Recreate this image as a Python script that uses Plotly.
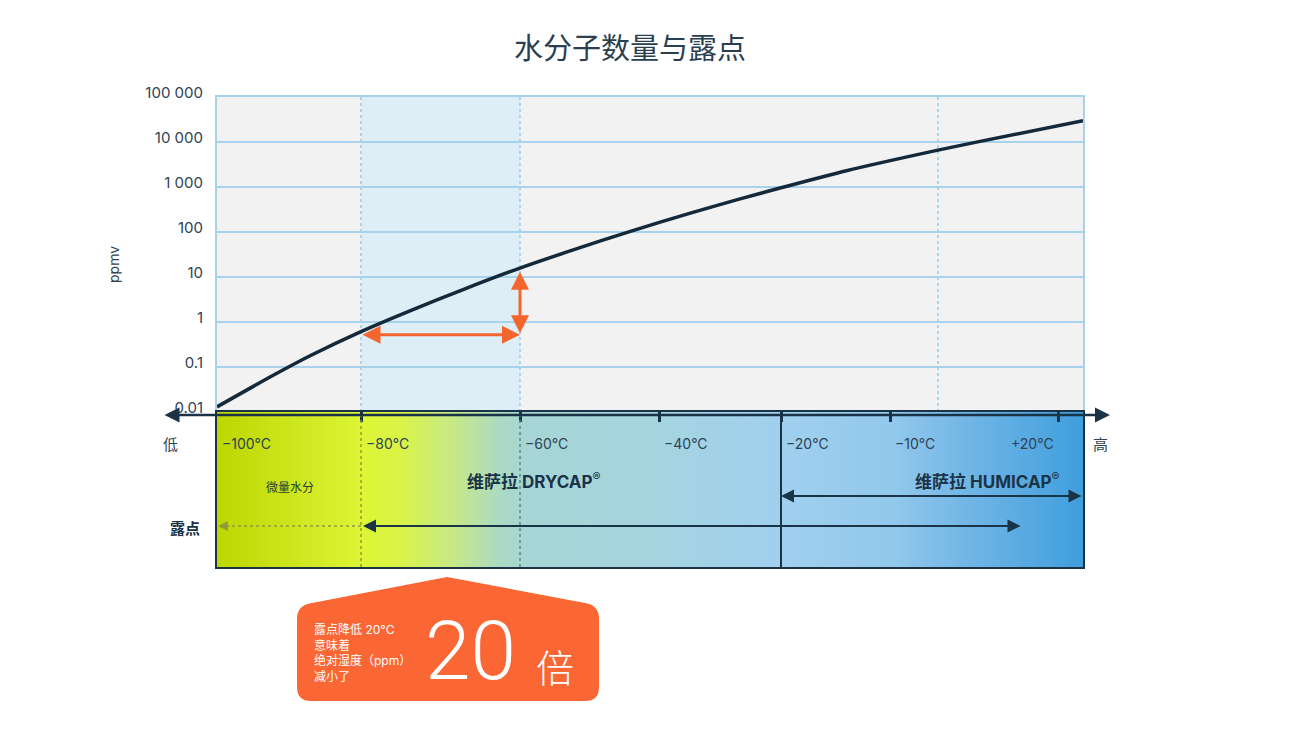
import numpy as np
import plotly.graph_objects as go

# --- data ---
dew_point = [-100, -92, -87, -80, -74, -67, -60, -53, -44, -35, -27, -20, -14, 0, 6, 25]   # °C
ppmv = [0.013, 0.068, 0.18, 0.61, 1.72, 5.4, 15.8, 37, 105, 260, 530, 960, 2300, 6600,
        9700, 29700]

y_ticks = [0.01, 0.1, 1, 10, 100, 1000, 10000, 100000]
y_ticktext = ["0.01", "0.1", "1", "10", "100", "1 000", "10 000", "100 000"]

dp_ticks = [-100, -80, -60, -40, -20, -10, 20]
dp_ticktext = ["\u2212100\u00b0C", "\u221280\u00b0C", "\u221260\u00b0C", "\u221240\u00b0C",
               "\u221220\u00b0C", "\u221210\u00b0C", "+20\u00b0C"]

# 20 °C drop in dew point: -80 -> -60
drop_from, drop_to = -80, -60
drop_level = 0.52      # ppmv of the horizontal arrow
rise_level = 13        # ppmv at the top of the vertical arrow

# the dew point axis is not linear in the original, piecewise scale
SCALE_T = [-100, -80, -60, -40, -20, -10, 0, 20, 25]
SCALE_X = [0, 144, 303, 442, 564, 673, 721, 841, 866]


def to_axis(t):
    return float(np.interp(t, SCALE_T, SCALE_X))


W, H = 1300, 731
OFF = 8   # page margin around the figure


def px(x):
    return (x - OFF) / W


def py(y):
    return 1 - (y - OFF) / H


NAVY = "#1b3346"
TXT = "#2e4354"
GRID = "#a6d2ec"
ORANGE = "#f5662f"
FONT = "Inter, Noto Sans CJK SC"
CJK = "Noto Sans CJK SC"

fig = go.Figure()

# curve
fig.add_trace(go.Scatter(
    x=[to_axis(t) for t in dew_point], y=ppmv, mode="lines",
    line=dict(color="#14293a", width=3.5, shape="spline", smoothing=0.8),
    xaxis="x", yaxis="y", hoverinfo="skip", showlegend=False))

# gradient band (decorative)
grad_pos = [0, 0.08, 0.166, 0.21, 0.27, 0.33, 0.36, 0.5, 0.65, 0.78, 0.88, 1.0]
grad_col = ["#bcd700", "#cbe51c", "#dcf535", "#daf446", "#c8e985", "#aad9c6",
            "#a6d5d5", "#a5d4df", "#a0d0ee", "#92c8ec", "#6cb3e5", "#3f9edc"]
fig.add_trace(go.Heatmap(
    x=[p * SCALE_X[-1] for p in grad_pos], y=[0, 1], z=[grad_pos, grad_pos],
    colorscale=[[p, c] for p, c in zip(grad_pos, grad_col)], zmin=0, zmax=1,
    zsmooth="best", showscale=False, hoverinfo="skip",
    xaxis="x2", yaxis="y2"))

xdom = [px(217), px(1083)]
fig.update_layout(
    width=W, height=H, margin=dict(l=0, r=0, t=0, b=0, autoexpand=False),
    paper_bgcolor="white", plot_bgcolor="#f2f2f2",
    font=dict(family=FONT, color=TXT, size=14),
    showlegend=False,
    xaxis=dict(domain=xdom, range=[0, SCALE_X[-1]], anchor="y", automargin=False,
               showgrid=False, zeroline=False, showticklabels=False,
               showline=True, mirror=True, linecolor=GRID, linewidth=2),
    yaxis=dict(domain=[py(412), py(97)], type="log", range=[-2, 5], anchor="x",
               automargin=False,
               tickvals=y_ticks, ticktext=y_ticktext, ticks="",
               ticklabelstandoff=9, ticklabelshift=-4,
               tickfont=dict(size=15, color=TXT),
               showgrid=True, gridcolor=GRID, gridwidth=2, zeroline=False,
               showline=True, mirror=True, linecolor=GRID, linewidth=2),
    xaxis2=dict(domain=xdom, range=[0, SCALE_X[-1]], anchor="y2", side="top",
                automargin=False,
                tickvals=[to_axis(t) for t in dp_ticks], showticklabels=False,
                ticks="inside", ticklen=10, tickwidth=2.5, tickcolor=NAVY,
                showgrid=False, zeroline=False,
                showline=True, mirror=True, linecolor=NAVY, linewidth=2),
    yaxis2=dict(domain=[py(567), py(412)], range=[0, 1], anchor="x2", automargin=False,
                showgrid=False, zeroline=False, showticklabels=False, ticks="",
                showline=True, mirror=True, linecolor=NAVY, linewidth=2),
)

# light blue band (DRYCAP low range) and dotted guides in the top plot
fig.add_shape(type="rect", xref="x", yref="y domain",
              x0=to_axis(drop_from), x1=to_axis(drop_to), y0=0, y1=1,
              fillcolor="#ddeef7", line_width=0, layer="below")
for t in [drop_from, drop_to, 0]:
    fig.add_shape(type="line", xref="x", yref="y domain",
                  x0=to_axis(t), x1=to_axis(t), y0=0, y1=1,
                  line=dict(color="#93cbec", width=1.5, dash="dot"), layer="below")

# guides in the band
fig.add_shape(type="line", xref="x2", yref="y2 domain", x0=to_axis(-80), x1=to_axis(-80),
              y0=0, y1=1, line=dict(color="#8c9c3a", width=1.5, dash="dot"))
fig.add_shape(type="line", xref="x2", yref="y2 domain", x0=to_axis(-60), x1=to_axis(-60),
              y0=0, y1=1, line=dict(color="#4f8d96", width=1.5, dash="dot"))
fig.add_shape(type="line", xref="x2", yref="y2 domain", x0=to_axis(-20), x1=to_axis(-20),
              y0=0, y1=1, line=dict(color=NAVY, width=2))

# main horizontal axis with arrows at both ends
fig.add_annotation(xref="paper", yref="paper", x=px(1110), y=py(415),
                   axref="pixel", ayref="pixel", ax=-(1110 - 163), ay=0, text="",
                   showarrow=True, arrowside="end+start", arrowhead=2, arrowsize=1.2,
                   arrowwidth=2.5, arrowcolor=NAVY)

# orange arrows: 20 °C drop -> 20x less water
fig.add_annotation(xref="x", yref="y", x=to_axis(drop_to), y=np.log10(drop_level),
                   axref="x", ayref="y", ax=to_axis(drop_from), ay=np.log10(drop_level),
                   text="", showarrow=True, arrowside="end+start", arrowhead=2,
                   arrowsize=1.2, arrowwidth=3, arrowcolor=ORANGE)
fig.add_annotation(xref="x", yref="y", x=to_axis(drop_to), y=np.log10(rise_level),
                   axref="x", ayref="y", ax=to_axis(drop_to), ay=np.log10(drop_level),
                   text="", showarrow=True, arrowside="end+start", arrowhead=2,
                   arrowsize=1.2, arrowwidth=3, arrowcolor=ORANGE)

# dew point range arrows inside the band
fig.add_shape(type="line", xref="x2", yref="paper", x0=to_axis(-80), x1=8,
              y0=py(526), y1=py(526), line=dict(color="#8c9c3a", width=1.5, dash="dot"))
fig.add_annotation(xref="x2", yref="paper", x=1, y=py(526), axref="pixel", ayref="pixel",
                   ax=12, ay=0, text="", showarrow=True, arrowhead=2, arrowsize=1.3,
                   arrowwidth=1.5, arrowcolor="#8c9c3a")
fig.add_annotation(xref="x2", yref="paper", x=to_axis(-80) + 2, y=py(526),
                   axref="x2", ayref="pixel", ax=805, ay=0, text="", showarrow=True,
                   arrowside="end+start", arrowhead=2, arrowsize=1.3, arrowwidth=2,
                   arrowcolor=NAVY)
fig.add_annotation(xref="x2", yref="paper", x=to_axis(-20), y=py(496),
                   axref="x2", ayref="pixel", ax=SCALE_X[-1], ay=0, text="", showarrow=True,
                   arrowside="end+start", arrowhead=2, arrowsize=1.3, arrowwidth=2,
                   arrowcolor=NAVY)

# dew point tick labels
for t, lab in zip(dp_ticks, dp_ticktext):
    right = t == dp_ticks[-1]
    fig.add_annotation(xref="x2", yref="paper", x=to_axis(t), y=py(443), yanchor="middle",
                       text=lab, showarrow=False, xanchor="right" if right else "left",
                       xshift=(-2 if right else 3), font=dict(size=14, color=TXT))


def label(x, y, text, size, color=TXT, family=FONT, xanchor="center", **kw):
    fig.add_annotation(xref="paper", yref="paper", x=px(x), y=py(y), text=text,
                       xanchor=xanchor, yanchor="middle", showarrow=False,
                       font=dict(family=family, size=size, color=color), **kw)


label(630, 46, "水分子数量与露点", 29, color="#2a3f50", family=CJK)
label(113, 265, "ppmv", 14, textangle=-90)
label(171, 443, "低", 15, family=CJK)
label(1100, 443, "高", 15, family=CJK)
label(290, 487, "微量水分", 12, color="#2a3f35", family=CJK)
label(533, 480, "<b>维萨拉 DRYCAP</b><sup>®</sup>", 17, color=NAVY)
label(1062, 480, "<b>维萨拉 HUMICAP</b><sup>®</sup>", 17, color=NAVY, xanchor="right")
label(185, 527, "<b>露点</b>", 15, color=NAVY, family=CJK)

# orange callout box
pts = [("M", 312, 603), ("L", 447, 577), ("L", 585, 603), ("Q", 599, 605, 599, 619),
       ("L", 599, 687), ("Q", 599, 701, 585, 701), ("L", 311, 701),
       ("Q", 297, 701, 297, 687), ("L", 297, 619), ("Q", 297, 605, 312, 603)]
path = ""
for p in pts:
    coords = p[1:]
    path += p[0] + " " + " ".join(
        f"{px(coords[i]):.5f},{py(coords[i + 1]):.5f}" for i in range(0, len(coords), 2)) + " "
path += "Z"
fig.add_shape(type="path", xref="paper", yref="paper", path=path,
              fillcolor="#fa6634", line_width=0, layer="above")

callout_lines = ["露点降低 20°C", "意味着", "绝对湿度（ppm）", "减小了"]
label(312, 653, "<br>".join(callout_lines), 12, color="white", xanchor="left", align="left")
fig.add_annotation(xref="paper", yref="paper", x=px(470), y=py(651), yanchor="middle",
                   text="20", showarrow=False,
                   font=dict(family="Roboto", size=82, color="white", weight=300))
fig.add_annotation(xref="paper", yref="paper", x=px(555), y=py(665), yanchor="middle",
                   text="倍", showarrow=False,
                   font=dict(family=CJK, size=38, color="white", weight=300))

fig.write_html("out.html")
